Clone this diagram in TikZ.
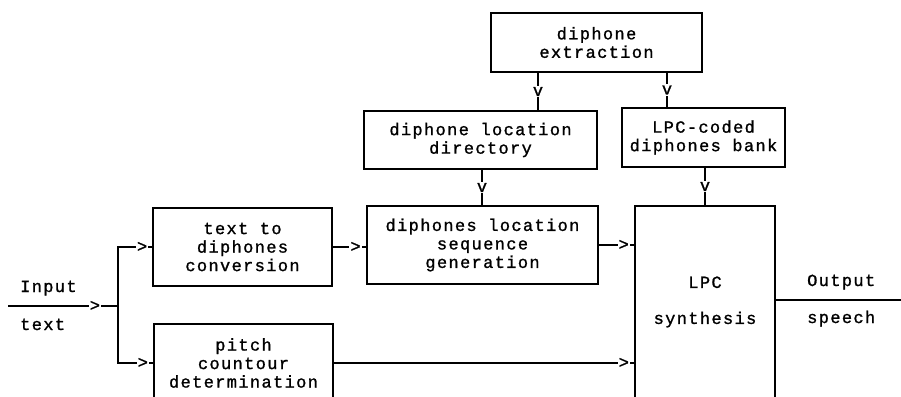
\documentclass[tikz,border=0pt]{standalone}
\usepackage{fontspec}
\newfontfamily\tw[LetterSpace=8,FakeBold=1.2]{Liberation Mono}
\newcommand\fsz{\tw\fontsize{17}{18.5}\selectfont}
\begin{document}
\begin{tikzpicture}[x=1pt,y=-1pt,
  box/.style={draw, line width=1.2pt, inner sep=0pt, align=center, font=\fsz},
  conn/.style={draw, line width=1.2pt},
  vv/.style={fill=white, inner sep=1.5pt, font=\fsz},
  ar/.style={fill=white, inner xsep=1pt, inner ysep=0pt, font=\fsz},
  lbl/.style={inner sep=0pt, font=\fsz}]
\clip (0,0) rectangle (901,396);
\fill[white] (0,0) rectangle (901,396);
% boxes
\node[box, minimum width=211pt, minimum height=59pt] (ext) at (596.5,42.5) {diphone\\extraction};
\node[box, minimum width=233pt, minimum height=58pt] (dir) at (480.5,140) {diphone location\\directory};
\node[box, minimum width=163pt, minimum height=59pt] (bank) at (703.5,137.5) {LPC-coded\\diphones bank};
\node[box, minimum width=179pt, minimum height=78pt] (t2d) at (242.5,247) {text to\\diphones\\conversion};
\node[box, minimum width=231pt, minimum height=78pt] (seq) at (482.5,245) {diphones location\\sequence\\generation};
\node[box, minimum width=179pt, minimum height=78pt] (pitch) at (243.5,363) {pitch\\countour\\determination};
\node[box, minimum width=140pt, minimum height=228pt] (lpc) at (705,320) {};
\node[lbl, align=center, font=\tw\fontsize{17}{36}\selectfont] (lpct) at (705,302) {LPC\\synthesis};
% labels
\node[lbl, anchor=base west] (inT) at (20,292) {Input};
\node[lbl, anchor=base west] (txT) at (20,330) {text};
\node[lbl, anchor=base west] (outT) at (807,286) {Output};
\node[lbl, anchor=base west] (spT) at (807,323) {speech};
% column coordinates
\coordinate (xA) at (538,0);
\coordinate (xB) at (667,0);
\coordinate (xC) at (482,0);
\coordinate (xD) at (705,0);
\coordinate (inL) at (8,306);
\coordinate (split) at (118,306);
\coordinate (outR) at (901,300);
% vertical connectors
\draw[conn] (ext.south -| xA) -- node[vv]{v} (dir.north -| xA);
\draw[conn] (ext.south -| xB) -- node[vv]{v} (bank.north -| xB);
\draw[conn] (dir.south -| xC) -- node[vv]{v} (seq.north -| xC);
\draw[conn] (bank.south -| xD) -- node[vv]{v} (lpc.north -| xD);
% horizontal connectors
\draw[conn] (inL) -- node[pos=0.79, ar]{>} (split);
\draw[conn] (split) |- node[pos=0.85, ar]{>} (t2d.west);
\draw[conn] (split) |- node[pos=0.85, ar]{>} (pitch.west);
\draw[conn] (t2d.east) -- node[pos=0.68, ar]{>} (t2d.east -| seq.west);
\draw[conn] (seq.east) -- node[pos=0.7, ar]{>} (seq.east -| lpc.west);
\draw[conn] (pitch.east) -- node[pos=0.965, ar]{>} (pitch.east -| lpc.west);
\draw[conn] (outR -| lpc.east) -- (outR);
\end{tikzpicture}
\end{document}
